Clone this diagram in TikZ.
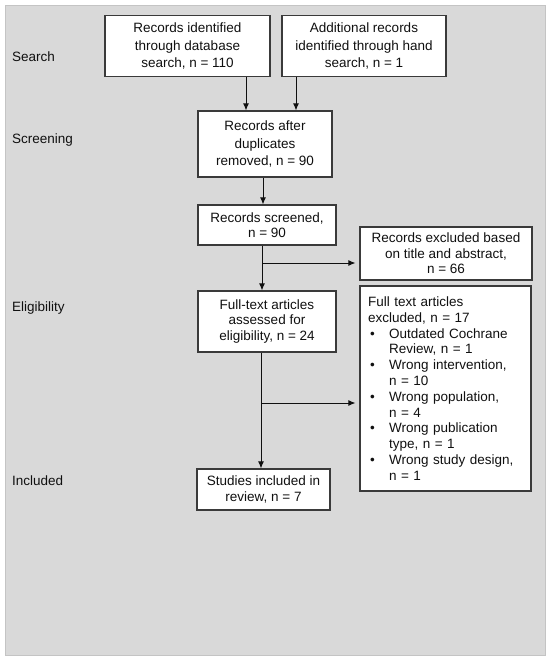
\documentclass[tikz,border=0pt]{standalone}
\usepackage{fontspec}
\setmainfont{Liberation Sans}
\usetikzlibrary{arrows.meta}
\definecolor{bgc}{HTML}{D9D9D9}
\definecolor{bgedge}{HTML}{C4C4C4}
\definecolor{edge}{HTML}{3A3A3A}
\definecolor{ink}{HTML}{101010}
\newcommand{\bulitem}{\makebox[21pt][l]{\hspace{2pt}\textbullet}}
\newcommand{\bulind}{\hspace*{21pt}}
\begin{document}
\begin{tikzpicture}[x=1pt,y=-1pt,
  box/.style={draw=edge, line width=1.1pt, fill=white, inner sep=0pt,
    align=center, text=ink, font=\fontsize{13.5}{15.6}\selectfont},
  tallbox/.style={box, font=\fontsize{13.5}{17.5}\selectfont},
  listbox/.style={box, align=left, inner xsep=8pt, text width=155pt,
    font=\fontsize{13.5}{15.8}\selectfont},
  stage/.style={anchor=west, inner sep=0pt, text=ink, font=\fontsize{13.5}{15.6}\selectfont},
  arr/.style={draw=ink, line width=1pt, -{Latex[length=7pt,width=6pt]}},
  ln/.style={draw=ink, line width=1pt}]
\useasboundingbox (0,0) rectangle (550,660);
\fill[white] (0,0) rectangle (550,660);
\filldraw[fill=bgc, draw=bgedge, line width=0.8pt] (5,5) rectangle (545,655);

% stage labels
\node[stage] (lsearch) at (12,57) {Search};
\node[stage] (lscreen) at (12,140) {Screening};
\node[stage] (lelig) at (12,308) {Eligibility};
\node[stage] (lincl) at (12,481) {Included};

% boxes
\node[tallbox, minimum width=165, minimum height=61.3] (b1) at (187.5,46.3)
  {Records identified\\through database\\search, n = 110};
\node[tallbox, minimum width=164, minimum height=61.3] (b2) at (364,46.3)
  {Additional records\\identified through hand\\search, n = 1};
\node[tallbox, minimum width=134, minimum height=66] (b3) at (265,144)
  {Records after\\duplicates\\removed, n = 90};
\node[box, minimum width=138, minimum height=40] (b4) at (267,225)
  {Records screened,\\n = 90};
\node[box, minimum width=172, minimum height=53] (b5) at (446,253.5)
  {Records excluded based\\on title and abstract,\\n = 66};
\node[box, minimum width=138, minimum height=61] (b6) at (267,321.5)
  {Full-text articles\\assessed for\\eligibility, n = 24};
\node[listbox, minimum height=205] (b7) at (445.5,388.5)
  {Full text articles\\excluded, n = 17\\
   \bulitem Outdated Cochrane\\\bulind Review, n = 1\\
   \bulitem Wrong intervention,\\\bulind n = 10\\
   \bulitem Wrong population,\\\bulind n = 4\\
   \bulitem Wrong publication\\\bulind type, n = 1\\
   \bulitem Wrong study design,\\\bulind n = 1};
\node[box, minimum width=133, minimum height=41] (b8) at (263.5,489.5)
  {Studies included in\\review, n = 7};

% connector coordinates
\coordinate (c1) at (246,0);
\coordinate (c2) at (296,0);
\coordinate (c3) at (263,0);
\coordinate (j1) at (262,263);
\coordinate (j2) at (261,403);

\draw[arr] (b1.south -| c1) -- (b3.north -| c1);
\draw[arr] (b2.south -| c2) -- (b3.north -| c2);
\draw[arr] (b3.south -| c3) -- (b4.north -| c3);
\draw[arr] (b4.south -| j1) -- (b6.north -| j1);
\draw[arr] (j1) -- ([xshift=-4pt]b5.west |- j1);
\draw[arr] (b6.south -| j2) -- (b8.north -| j2);
\draw[arr] (j2) -- ([xshift=-4pt]b7.west |- j2);
\end{tikzpicture}
\end{document}
